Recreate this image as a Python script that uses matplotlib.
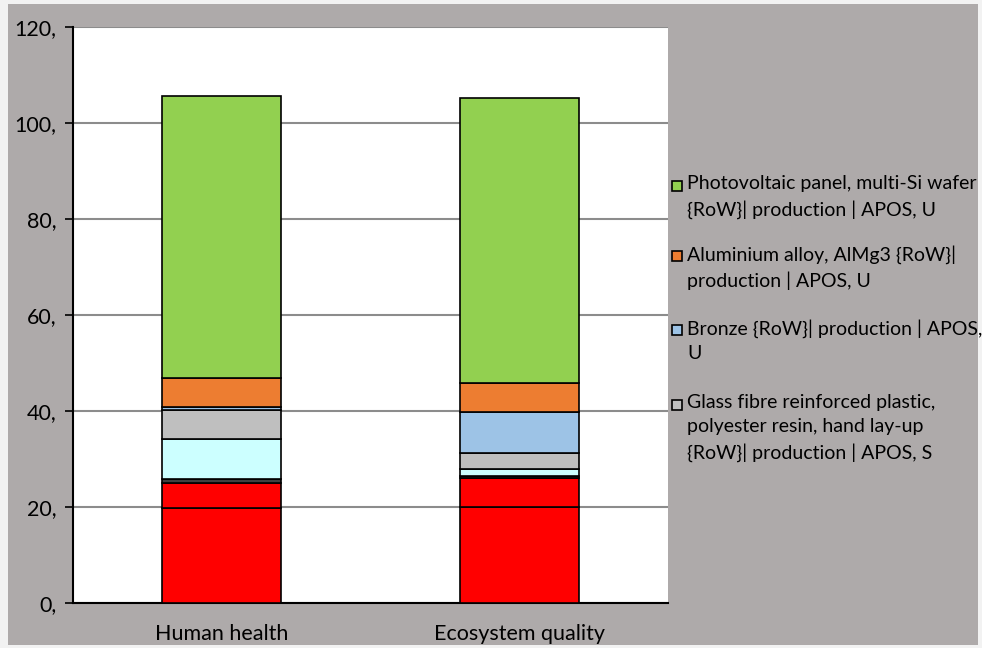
import numpy as np
import matplotlib.pyplot as plt
from matplotlib.patches import Rectangle

plt.rcParams['font.family'] = ['Lato', 'DejaVu Sans']

categories = ["Human health", "Ecosystem quality"]

# stacked contributions, bottom to top
series_names = [
    "Red process 1",
    "Red process 2",
    "Minor process",
    "Light cyan process",
    "Glass fibre reinforced plastic,\npolyester resin, hand lay-up\n{RoW}| production | APOS, S",
    "Bronze {RoW}| production | APOS,\nU",
    "Aluminium alloy, AlMg3 {RoW}|\nproduction | APOS, U",
    "Photovoltaic panel, multi-Si wafer\n{RoW}| production | APOS, U",
]
series_values = [
    [19.7, 20.1],
    [5.4, 5.9],
    [0.7, 0.5],
    [8.3, 1.4],
    [6.1, 3.3],
    [0.6, 8.5],
    [6.0, 6.1],
    [58.8, 59.4],
]
series_colors = ["#ff0000", "#ff0000", "#404040", "#ccffff",
                 "#bfbfbf", "#9dc3e6", "#ed7d31", "#92d050"]
legend_series = [7, 6, 5, 4]

y_ticks = [0, 20, 40, 60, 80, 100, 120]
y_tick_labels = ["0,", "20,", "40,", "60,", "80,", "100,", "120,"]

W, H = 982, 648
fig = plt.figure(figsize=(W / 100, H / 100), dpi=100, facecolor="#f2f2f2")
fig.patches.append(Rectangle((8 / W, 3 / H), 970 / W, 641 / H,
                             transform=fig.transFigure, facecolor="#aeaaaa",
                             edgecolor="none", zorder=-5))

ax = fig.add_axes([73 / W, 1 - 603 / H, 595 / W, 576 / H])
ax.set_zorder(2)
ax.set_facecolor("white")

x = np.arange(len(categories))
bottom = np.zeros(len(categories))
for vals, col in zip(series_values, series_colors):
    ax.bar(x, vals, bottom=bottom, width=0.4, color=col,
           edgecolor="black", linewidth=1.2, zorder=3)
    bottom += np.array(vals)

ax.set_xlim(-0.5, 1.5)
ax.set_ylim(0, 120)
ax.set_yticks(y_ticks)
ax.set_yticklabels(y_tick_labels, fontsize=15.5)
ax.set_xticks(x)
ax.set_xticklabels(categories, fontsize=15.5)
ax.tick_params(axis='x', length=0, pad=15)
ax.tick_params(axis='y', length=6, direction='out', width=1.2, pad=6)
ax.grid(axis='y', color="#8c8c8c", linewidth=1.5, zorder=1)
for s in ["top", "right"]:
    ax.spines[s].set_visible(False)
ax.spines["left"].set_linewidth(1.5)
ax.spines["bottom"].set_linewidth(1.5)

# legend drawn by hand so the markers sit at the first text line
entry_y = [186, 256, 330, 405]
for i, yc in zip(legend_series, entry_y):
    fig.patches.append(Rectangle((672 / W, 1 - (yc + 5) / H), 10 / W, 10 / H,
                                 transform=fig.transFigure,
                                 facecolor=series_colors[i],
                                 edgecolor="black", linewidth=1.2, zorder=3))
    fig.text(687 / W, 1 - (yc - 11) / H, series_names[i], fontsize=14,
             va="top", ha="left", linespacing=1.5)

fig.savefig("out.png", dpi=100, facecolor=fig.get_facecolor())
